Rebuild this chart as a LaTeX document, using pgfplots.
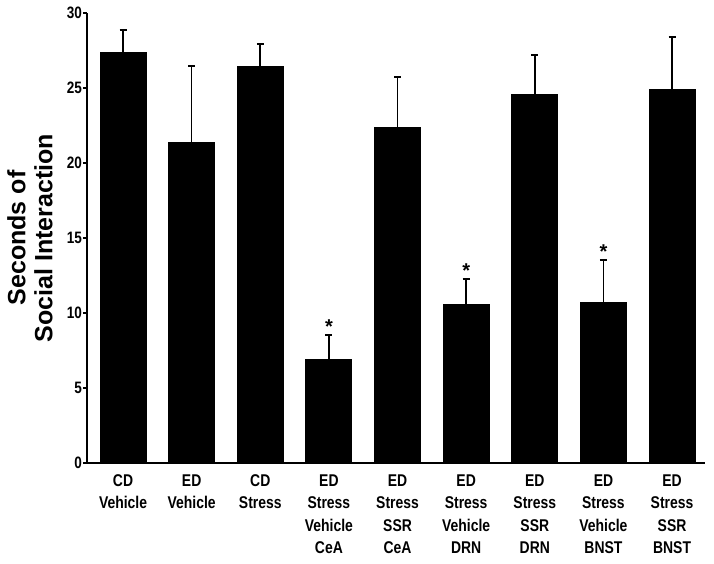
\documentclass[border=0pt]{standalone}
\usepackage{pgfplots}
\pgfplotsset{compat=1.18}
\usepackage{fontspec}
\setmainfont{Liberation Sans}
\newfontfamily\narrow[FakeStretch=0.82]{Liberation Sans}
\begin{document}
\begin{tikzpicture}
\begin{axis}[
  scale only axis,
  width=618pt, height=450pt,
  xmin=-0.525, xmax=8.48,
  ymin=0, ymax=30,
  axis lines=left,
  axis line style={-, line width=1.6pt},
  ytick={0,5,10,15,20,25,30},
  xtick={0,1,2,3,4,5,6,7,8},
  xticklabels={{CD\\Vehicle},{ED\\Vehicle},{CD\\Stress},{ED\\Stress\\Vehicle\\CeA},{ED\\Stress\\SSR\\CeA},{ED\\Stress\\Vehicle\\DRN},{ED\\Stress\\SSR\\DRN},{ED\\Stress\\Vehicle\\BNST},{ED\\Stress\\SSR\\BNST}},
  xticklabel style={align=center, font=\fontsize{17}{22.5}\selectfont\narrow\bfseries, anchor=north, yshift=-6pt},
  x tick style={draw=none},
  y tick style={line width=1.4pt, black},
  ytick align=outside,
  major tick length=4pt,
  yticklabel style={font=\fontsize{16.5}{18}\selectfont\narrow\bfseries, xshift=2.5pt},
  /pgf/number format/assume math mode=true,
  ylabel={Seconds of\\Social Interaction},
  ylabel style={align=center, font=\fontsize{25}{27}\selectfont\bfseries, at={(axis description cs:-0.0922,0.5)}, anchor=center},
  clip=false,
]
\addplot[ybar, bar width=0.67, fill=black, draw=black, line width=0pt,
  error bars/.cd, y dir=plus, y explicit,
  error bar style={line width=1.6pt, black},
  error mark options={rotate=90, mark size=3.5pt, line width=2pt, black}]
  coordinates {
  (0,27.34) +- (0,1.51)
  (1,21.35) +- (0,5.12)
  (2,26.40) +- (0,1.52)
  (3,6.92) +- (0,1.62)
  (4,22.34) +- (0,3.36)
  (5,10.58) +- (0,1.71)
  (6,24.54) +- (0,2.66)
  (7,10.67) +- (0,2.86)
  (8,24.92) +- (0,3.48)
  };
\addplot[draw=none, mark=none, nodes near coords={*},
  every node near coord/.append style={font=\fontsize{20}{20}\selectfont\bfseries, anchor=south, yshift=-2pt}]
  coordinates {(3,8.54) (5,12.29) (7,13.53)};
\end{axis}
\path (current axis.south west) ++(-87pt,-101pt) (current axis.north east) ++(9pt,13pt);
\end{tikzpicture}
\end{document}
